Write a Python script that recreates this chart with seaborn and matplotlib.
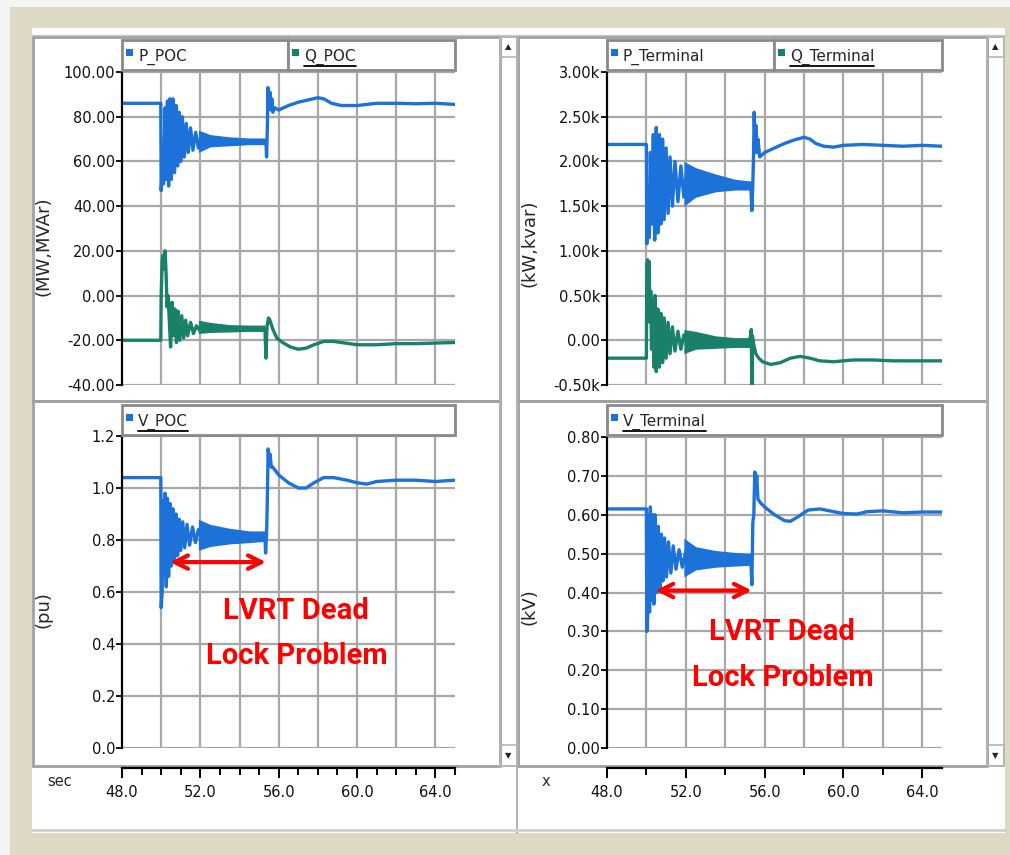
import numpy as np
import seaborn as sns
import matplotlib
matplotlib.use("Agg")
import matplotlib.pyplot as plt
from matplotlib.patches import Rectangle
from matplotlib.lines import Line2D

W, H = 1010, 855
blue = "#1c72d8"
green = "#19806a"
grid_c = "#a8a8a8"
frame_c = "#a0a0a0"
beige = "#ded9c4"

# ---- values ----
# P_POC (MW)
p_poc_t = [48.0, 49.98, 50.0, 50.08, 50.12, 50.2, 50.26, 50.32, 50.38, 50.44, 50.52, 50.6,
           50.68, 50.76, 50.84, 50.92, 51.0, 51.08, 51.18, 51.28, 51.38, 51.5, 51.62, 51.76,
           51.9, 52.05, 52.2, 53.0, 54.0, 55.3, 55.35, 55.38, 55.42, 55.45, 55.5, 55.55,
           55.6, 55.65, 55.7, 55.8, 56.0, 56.5, 57.0, 57.5, 58.0, 58.3, 58.7, 59.2, 60.0,
           61.0, 62.0, 63.0, 64.0, 65.0]
p_poc = [86, 86, 47, 60, 50, 84, 52, 87, 49, 88, 52, 88,
         55, 85, 58, 82, 60, 80, 62, 77, 64, 75, 65, 73,
         66, 72, 67, 69.5, 69, 69, 69, 62, 75, 93, 84, 91,
         83, 88, 82, 84, 83, 85, 86.5, 87.5, 88.5, 88, 86, 85, 85,
         86, 86, 85.8, 86, 85.5]
p_poc_band = ([51.9, 52.5, 53.5, 54.5, 55.35], [64, 66.5, 67, 67.5, 67.5], [74, 72, 71, 70.5, 70.5])

# Q_POC (MVAr)
q_poc_t = [48.0, 49.98, 50.0, 50.05, 50.1, 50.15, 50.2, 50.25, 50.3, 50.35, 50.42, 50.48,
           50.55, 50.62, 50.7, 50.78, 50.86, 50.95, 51.05, 51.15, 51.25, 51.35, 51.5, 51.65,
           51.8, 52.0, 52.2, 53.5, 55.3, 55.35, 55.4, 55.48, 55.55, 55.7, 55.9, 56.2, 56.6,
           57.0, 57.4, 57.8, 58.3, 58.8, 59.2, 60.0, 61.0, 62.0, 63.0, 65.0]
q_poc = [-20, -20, 0, 15, 18, 12, 20, 10, -5, 0, -12, -23,
         -3, -18, -6, -21, -7, -20, -9, -19, -11, -18, -12, -17,
         -13.5, -16, -14.5, -15, -15.5, -28, -14, -10, -11, -15, -19, -21, -23,
         -24, -23.5, -22, -20.5, -20.5, -21, -22, -22, -21.5, -21.5, -21]
q_poc_band = ([51.9, 52.5, 53.5, 54.5, 55.3], [-17, -16.5, -16.3, -16, -16], [-11, -12, -13, -13.2, -13.2])

# P_Terminal (kW)
p_term_t = [48.0, 50.0, 50.02, 50.1, 50.15, 50.2, 50.28, 50.35, 50.42, 50.5, 50.58, 50.66,
            50.74, 50.82, 50.9, 51.0, 51.1, 51.2, 51.32, 51.45, 51.6, 51.75, 51.9, 52.05,
            52.25, 53.0, 54.0, 55.3, 55.35, 55.4, 55.43, 55.47, 55.52, 55.56, 55.6, 55.66,
            55.75, 56.0, 56.5, 57.0, 57.5, 58.0, 58.3, 58.6, 59.0, 59.5, 60.0, 61.0, 62.0,
            63.0, 64.0, 65.0]
p_term = [2.19, 2.19, 1.08, 1.6, 1.15, 2.1, 1.3, 2.3, 1.12, 2.38, 1.2, 2.3,
          1.3, 2.25, 1.35, 2.15, 1.42, 2.05, 1.5, 2.0, 1.55, 1.95, 1.6, 1.9,
          1.65, 1.77, 1.75, 1.72, 1.45, 1.75, 2.0, 2.55, 2.1, 2.4, 2.1, 2.25,
          2.05, 2.1, 2.15, 2.2, 2.24, 2.27, 2.25, 2.2, 2.17, 2.16, 2.18, 2.19, 2.18,
          2.17, 2.18, 2.17]
p_term_band = ([51.9, 52.5, 53.5, 54.5, 55.35], [1.5, 1.6, 1.66, 1.68, 1.68], [2.0, 1.93, 1.86, 1.8, 1.78])

# Q_Terminal (kvar)
q_term_t = [48.0, 50.0, 50.02, 50.06, 50.1, 50.14, 50.18, 50.22, 50.26, 50.32, 50.38, 50.44,
            50.5, 50.58, 50.66, 50.74, 50.82, 50.9, 51.0, 51.1, 51.2, 51.32, 51.45, 51.6,
            51.75, 51.9, 52.1, 53.5, 55.2, 55.28, 55.32, 55.35, 55.38, 55.45, 55.55, 55.7,
            55.9, 56.3, 56.8, 57.3, 57.8, 58.3, 58.8, 59.5, 60.5, 61.5, 62.5, 63.5, 65.0]
q_term = [-0.2, -0.2, 0.85, 0.9, 0.6, 0.88, 0.2, 0.55, -0.1, 0.45, -0.3, 0.5,
          -0.35, 0.35, -0.3, 0.3, -0.25, 0.25, -0.2, 0.2, -0.15, 0.15, -0.12, 0.1,
          -0.1, 0.06, -0.07, -0.02, -0.05, 0.05, 0.12, -0.5, 0.05, -0.05, -0.15, -0.2,
          -0.24, -0.27, -0.25, -0.2, -0.18, -0.2, -0.23, -0.24, -0.22, -0.22, -0.23, -0.23, -0.23]
q_term_band = ([51.9, 52.5, 53.5, 54.5, 55.3], [-0.15, -0.1, -0.09, -0.08, -0.08], [0.12, 0.1, 0.05, 0.03, 0.03])

# V_POC (pu)
v_poc_t = [48.0, 49.98, 50.0, 50.05, 50.1, 50.15, 50.2, 50.26, 50.32, 50.38, 50.45, 50.52,
           50.6, 50.68, 50.76, 50.84, 50.92, 51.0, 51.1, 51.2, 51.32, 51.45, 51.6, 51.75,
           51.9, 52.1, 53.5, 55.3, 55.33, 55.38, 55.42, 55.46, 55.52, 55.56, 55.62, 55.7,
           56.0, 56.5, 57.0, 57.4, 57.8, 58.3, 58.8, 59.5, 60.0, 60.5, 61.0, 62.0, 63.0,
           64.0, 65.0]
v_poc = [1.04, 1.04, 0.54, 0.6, 0.95, 0.66, 0.98, 0.62, 0.96, 0.66, 0.94, 0.7,
         0.92, 0.72, 0.9, 0.74, 0.88, 0.76, 0.87, 0.77, 0.86, 0.78, 0.85, 0.79,
         0.84, 0.8, 0.815, 0.82, 0.75, 0.82, 0.96, 1.15, 1.1, 1.13, 1.08, 1.08,
         1.05, 1.02, 1.0, 1.0, 1.02, 1.04, 1.04, 1.03, 1.02, 1.015, 1.025, 1.03, 1.03,
         1.025, 1.03]
v_poc_band = ([51.9, 52.5, 53.5, 54.5, 55.3], [0.76, 0.775, 0.785, 0.79, 0.795], [0.88, 0.86, 0.845, 0.835, 0.835])

# V_Terminal (kV)
v_term_t = [48.0, 50.0, 50.02, 50.06, 50.1, 50.16, 50.2, 50.26, 50.32, 50.38, 50.44, 50.52,
            50.6, 50.68, 50.76, 50.84, 50.92, 51.02, 51.12, 51.24, 51.36, 51.5, 51.66, 51.82,
            52.0, 52.2, 53.5, 55.3, 55.35, 55.4, 55.45, 55.5, 55.55, 55.6, 55.66, 55.8,
            56.0, 56.5, 57.0, 57.3, 57.7, 58.2, 58.8, 59.3, 60.0, 60.7, 61.2, 62.0, 63.0,
            64.0, 65.0]
v_term = [0.615, 0.615, 0.3, 0.33, 0.6, 0.35, 0.62, 0.38, 0.6, 0.37, 0.6, 0.4,
          0.57, 0.41, 0.55, 0.43, 0.54, 0.44, 0.53, 0.45, 0.52, 0.46, 0.51, 0.465,
          0.505, 0.47, 0.487, 0.485, 0.42, 0.58, 0.6, 0.71, 0.67, 0.7, 0.64, 0.63,
          0.62, 0.6, 0.585, 0.583, 0.595, 0.612, 0.615, 0.61, 0.603, 0.602, 0.608, 0.61, 0.605,
          0.607, 0.607]
v_term_band = ([51.9, 52.5, 53.5, 54.5, 55.3], [0.44, 0.458, 0.465, 0.468, 0.47], [0.54, 0.518, 0.508, 0.503, 0.5])

ticks_top_left = [-40, -20, 0, 20, 40, 60, 80, 100]
ticks_top_right = [-0.5, 0.0, 0.5, 1.0, 1.5, 2.0, 2.5, 3.0]
ticks_bot_left = [0.0, 0.2, 0.4, 0.6, 0.8, 1.0, 1.2]
ticks_bot_right = [0.0, 0.1, 0.2, 0.3, 0.4, 0.5, 0.6, 0.7, 0.8]
grid_x = [50, 52, 54, 56, 58, 60, 62, 64]
time_labels = [48, 52, 56, 60, 64]

sns.set_theme(style="white")
plt.rcParams["font.family"] = ["DejaVu Sans"]

fig = plt.figure(figsize=(W / 100, H / 100), dpi=100, facecolor=beige)


def fx(x):
    return x / W


def fy(y):
    return 1 - y / H


def box(x0, y0, x1, y1, fc="white", ec="none", lw=0, z=-10):
    fig.add_artist(Rectangle((fx(x0), fy(y1)), fx(x1 - x0), (y1 - y0) / H,
                             transform=fig.transFigure, fc=fc, ec=ec, lw=lw, zorder=z))


def hline(x0, x1, y, color=frame_c, lw=1.5, z=-5):
    fig.add_artist(Line2D([fx(x0), fx(x1)], [fy(y), fy(y)], transform=fig.transFigure,
                          color=color, lw=lw, zorder=z))


def vline(x, y0, y1, color=frame_c, lw=1.5, z=-5):
    fig.add_artist(Line2D([fx(x), fx(x)], [fy(y0), fy(y1)], transform=fig.transFigure,
                          color=color, lw=lw, zorder=z))


# window chrome
box(0, 0, W, 7, fc="#f4f4f0")
box(0, 0, 10, H, fc="#f4f4f0")
box(32, 28, 1005, 833)
hline(32, 1005, 35, color="#c8c8c8", lw=1)
for x0, x1, sb in [(33, 500, 500), (518, 987, 987)]:
    box(x0, 37, x1, 401, fc="none", ec=frame_c, lw=2, z=-5)
    box(x0, 401, x1, 766, fc="none", ec=frame_c, lw=2, z=-5)
    box(sb, 37, sb + 17, 766, fc="none", ec="#b4b4b4", lw=1.2, z=-5)
    box(sb, 37, sb + 17, 57, fc="none", ec="#b4b4b4", lw=1.2, z=-5)
    box(sb, 745, sb + 17, 766, fc="none", ec="#b4b4b4", lw=1.2, z=-5)
    fig.text(fx(sb + 8.5), fy(47), "▲", fontsize=6, ha="center", va="center")
    fig.text(fx(sb + 8.5), fy(756), "▼", fontsize=6, ha="center", va="center")
vline(517, 37, 833, color="#b4b4b4", lw=1.5)
hline(32, 1005, 830, color="#d0d0d0", lw=2)


def make_ax(x0, y0, x1, y1):
    return fig.add_axes([fx(x0), fy(y1), fx(x1 - x0), (y1 - y0) / H])


def style_ax(ax, ylim, yticks, labels):
    ax.set_xlim(48, 65)
    ax.set_ylim(*ylim)
    ax.set_xticks(grid_x)
    ax.set_yticks(yticks)
    ax.set_yticklabels(labels)
    ax.grid(True, color=grid_c, lw=1.6)
    ax.set_axisbelow(True)
    for s in ["top", "right", "bottom"]:
        ax.spines[s].set_visible(False)
    ax.spines["left"].set_color("black")
    ax.spines["left"].set_linewidth(1.6)
    ax.tick_params(axis="x", length=0, labelbottom=False)
    ax.tick_params(axis="y", left=True, length=4, width=1.3, color="black",
                   direction="out", labelsize=10.5, pad=1, labelcolor="#111111")
    ax.set_xlabel("")
    ax.set_ylabel("")


def draw_series(ax, t, v, band, color):
    bt, lo, hi = band
    ax.fill_between(bt, lo, hi, color=color, lw=0)
    sns.lineplot(x=t, y=v, ax=ax, color=color, lw=2.4, estimator=None, sort=False, legend=False)


ax_tl = make_ax(122, 72, 455, 385)
draw_series(ax_tl, p_poc_t, p_poc, p_poc_band, blue)
draw_series(ax_tl, q_poc_t, q_poc, q_poc_band, green)
style_ax(ax_tl, (-40, 100), ticks_top_left, [f"{v:.2f}" for v in ticks_top_left])

ax_tr = make_ax(607, 72, 942, 385)
draw_series(ax_tr, p_term_t, p_term, p_term_band, blue)
draw_series(ax_tr, q_term_t, q_term, q_term_band, green)
style_ax(ax_tr, (-0.5, 3.0), ticks_top_right,
         ["0.00" if v == 0 else f"{v:.2f}k" for v in ticks_top_right])

ax_bl = make_ax(122, 436, 455, 748)
draw_series(ax_bl, v_poc_t, v_poc, v_poc_band, blue)
style_ax(ax_bl, (0, 1.2), ticks_bot_left, [f"{v:.1f}" for v in ticks_bot_left])

ax_br = make_ax(607, 437, 942, 748)
draw_series(ax_br, v_term_t, v_term, v_term_band, blue)
style_ax(ax_br, (0, 0.8), ticks_bot_right, [f"{v:.2f}" for v in ticks_bot_right])

# annotations
for ax, yarr, ytxt in [(ax_bl, 0.715, 0.44), (ax_br, 0.405, 0.24)]:
    ax.annotate("", xy=(50.45, yarr), xytext=(55.35, yarr),
                arrowprops=dict(arrowstyle="<->", color="red", lw=3, mutation_scale=24,
                                shrinkA=0, shrinkB=0))
    ax.text(56.9, ytxt, "LVRT Dead\nLock Problem", color="red", ha="center", va="center",
            fontsize=21, fontweight="bold", linespacing=1.8,
            family=["Roboto", "DejaVu Sans"])

# y labels
fig.text(fx(44), fy(246), "(MW,MVAr)", rotation=90, ha="center", va="center", fontsize=13)
fig.text(fx(530), fy(243), "(kW,kvar)", rotation=90, ha="center", va="center", fontsize=13)
fig.text(fx(44), fy(610), "(pu)", rotation=90, ha="center", va="center", fontsize=13)
fig.text(fx(530), fy(607), "(kV)", rotation=90, ha="center", va="center", fontsize=13)

# legend boxes
legend_cells = [
    (122, 288, 40, "P_POC", blue, False),
    (288, 455, 40, "Q_POC", green, True),
    (607, 774, 40, "P_Terminal", blue, False),
    (774, 942, 40, "Q_Terminal", green, True),
    (122, 455, 405, "V_POC", blue, True),
    (607, 942, 405, "V_Terminal", blue, True),
]
fig.canvas.draw()
renderer = fig.canvas.get_renderer()
for x0, x1, y0, name, color, underline in legend_cells:
    box(x0, y0, x1, y0 + 30, fc="white", ec="#8a8a8a", lw=2, z=2)
    box(x0 + 4, y0 + 9, x0 + 11, y0 + 16, fc=color, z=3)
    t = fig.text(fx(x0 + 16), fy(y0 + 17), name, fontsize=11, ha="left", va="center", zorder=4)
    if underline:
        bb = t.get_window_extent(renderer)
        hline(x0 + 16, x0 + 16 + bb.width, y0 + 26, color="black", lw=1.3, z=4)


# time axis strips
def x_strip(x0, x1, minor, label, lx):
    axs = fig.add_axes([fx(x0), fy(768), fx(x1 - x0), 0.0001])
    axs.set_xlim(48, 65)
    axs.set_yticks([])
    axs.patch.set_alpha(0)
    for s in ["top", "right", "left"]:
        axs.spines[s].set_visible(False)
    axs.spines["bottom"].set_color("black")
    axs.spines["bottom"].set_linewidth(1.6)
    axs.set_xticks(time_labels)
    axs.set_xticklabels([f"{v:.1f}" for v in time_labels])
    axs.set_xticks(minor, minor=True)
    axs.tick_params(axis="x", which="major", bottom=True, length=7, width=1.4, color="black",
                    direction="out", labelsize=10.5, pad=5, labelcolor="#111111")
    axs.tick_params(axis="x", which="minor", bottom=True, length=5, width=1.4, color="black",
                    direction="out")
    fig.text(fx(lx), fy(781), label, fontsize=10.5, ha="center", va="center")


x_strip(122, 455, [49, 50, 51, 53, 54, 55, 57, 58, 59, 61, 62, 63, 65], "sec", 60)
x_strip(607, 942, [50, 54, 58, 62], "x", 546)

fig.savefig("out.png", dpi=100, facecolor=beige)
